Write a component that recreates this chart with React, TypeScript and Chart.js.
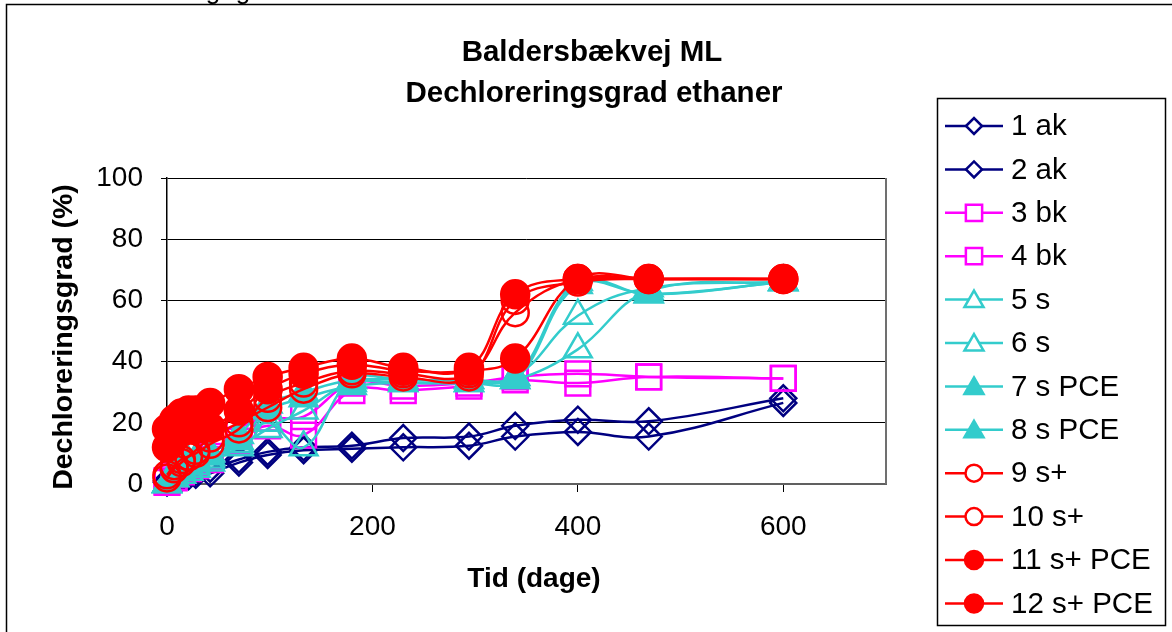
import React, { useEffect, useRef } from 'react';
import { Chart, registerables } from 'chart.js';
import { drawPoint } from 'chart.js/helpers';

Chart.register(...registerables);

const FONT = '"Liberation Sans", Arial, sans-serif';

const days = [0, 7, 14, 21, 28, 42, 70, 98, 133, 180, 230, 294, 339, 400, 469, 600];

const s1ak = [1, 2, 3, 3.5, 4, 5, 8, 10.5, 12, 12.5, 15, 15.5, 19, 21, 20.5, 28];
const s2ak = [0.5, 1, 2, 2.5, 3, 3.5, 7, 9.5, 11, 11.5, 12, 12.5, 15.5, 17, 15.5, 26.5];
const s3bk = [1, 3, 5, 6, 7, 9, 18, 21.5, 22, 33, 32, 33, 35, 36, 35, 34.5];
const s4bk = [0.5, 2, 4, 5, 6, 8, 14, 19, 16, 30.5, 30.5, 32, 34, 33, 35, 34.5];
const s5s = [0, 2, 4, 5, 6, 8, 13, 20, 12, 34, 34, 34, 35, 55, 64, 66];
const s6s = [0, 2, 3, 4, 5, 7, 12, 18, 24, 33, 33, 33, 34, 44, 63, 66];
const s7sPCE = [0, 3, 5, 7, 8, 10, 16, 26, 30, 34, 34, 34, 35, 66, 62, 66];
const s8sPCE = [0, 2, 4, 6, 7, 9, 14, 24, 28, 32, 33, 33, 34, 65, 62, 66];
const s9sp = [3, 6, 8, 9, 10, 13, 18, 28, 33, 37, 36, 36, 56, 67, 67, 67];
const s10sp = [2, 5, 7, 9, 11, 15, 20, 25, 31, 36, 35, 35, 60, 66, 67, 67];
const s11spPCE = [18, 21, 23, 24, 24, 26.5, 31, 35, 38, 41, 38, 38, 62, 67, 67, 67];
const s12spPCE = [12, 15, 17, 18, 18, 18.5, 24, 31, 36, 39, 37, 37, 41, 67, 67, 67];

const seriesNames = ['1 ak', '2 ak', '3 bk', '4 bk', '5 s', '6 s', '7 s PCE', '8 s PCE', '9 s+', '10 s+', '11 s+ PCE', '12 s+ PCE'];
const seriesValues = [s1ak, s2ak, s3bk, s4bk, s5s, s6s, s7sPCE, s8sPCE, s9sp, s10sp, s11spPCE, s12spPCE];

const xTicks = [0, 200, 400, 600];
const titleLines = ['Baldersbækvej ML', 'Dechloreringsgrad ethaner'];
const xTitle = 'Tid (dage)';
const yTitle = 'Dechloreringsgrad (%)';

const NAVY = '#000080';
const MAGENTA = '#FF00FF';
const CYAN = '#33CCCC';
const RED = '#FF0000';
const CLEAR = 'rgba(0,0,0,0)';

type Sty = { color: string; style: string; filled: boolean; r: number; lr: number };
const styles: Sty[] = [
  { color: NAVY, style: 'rectRot', filled: false, r: 13, lr: 8 },
  { color: NAVY, style: 'rectRot', filled: false, r: 13, lr: 8 },
  { color: MAGENTA, style: 'rect', filled: false, r: 17.5, lr: 11.5 },
  { color: MAGENTA, style: 'rect', filled: false, r: 17.5, lr: 11.5 },
  { color: CYAN, style: 'triangle', filled: false, r: 16, lr: 11 },
  { color: CYAN, style: 'triangle', filled: false, r: 16, lr: 11 },
  { color: CYAN, style: 'triangle', filled: true, r: 16, lr: 11 },
  { color: CYAN, style: 'triangle', filled: true, r: 16, lr: 11 },
  { color: RED, style: 'circle', filled: false, r: 13.5, lr: 8.5 },
  { color: RED, style: 'circle', filled: false, r: 13.5, lr: 8.5 },
  { color: RED, style: 'circle', filled: true, r: 14, lr: 9 },
  { color: RED, style: 'circle', filled: true, r: 14, lr: 9 },
];

const decorPlugin = {
  id: 'decor',
  afterDraw(chart: any) {
    const ctx = chart.ctx as CanvasRenderingContext2D;
    const ca = chart.chartArea;
    ctx.save();
    // plot area right border
    ctx.strokeStyle = '#707070';
    ctx.lineWidth = 2;
    ctx.beginPath();
    ctx.moveTo(ca.right, ca.top);
    ctx.lineTo(ca.right, ca.bottom);
    ctx.stroke();

    // outer border
    ctx.strokeStyle = '#000';
    ctx.lineWidth = 1.5;
    ctx.strokeRect(6.5, 4.5, 1180, 640);

    // cut-off descenders at the top
    ctx.fillStyle = '#000';
    ctx.font = `26px ${FONT}`;
    ctx.textAlign = 'center';
    ctx.textBaseline = 'alphabetic';
    ctx.fillText('g', 213, -1);
    ctx.fillText('g', 243, -1);

    // title
    ctx.font = `bold 29.5px ${FONT}`;
    ctx.textBaseline = 'middle';
    ctx.fillText(titleLines[0], 592, 53);
    ctx.fillText(titleLines[1], 594, 94);

    // axis titles
    ctx.font = `bold 28px ${FONT}`;
    ctx.fillText(xTitle, 534, 579);
    ctx.save();
    ctx.translate(64, 337);
    ctx.rotate(-Math.PI / 2);
    ctx.font = `bold 28.5px ${FONT}`;
    ctx.fillText(yTitle, 0, 0);
    ctx.restore();

    // legend
    const lx = 937, ly = 98, lw = 228, lh = 527;
    ctx.fillStyle = '#fff';
    ctx.fillRect(lx, ly, lw, lh);
    ctx.strokeStyle = '#000';
    ctx.lineWidth = 1.5;
    ctx.strokeRect(lx + 0.5, ly + 0.5, lw, lh);
    ctx.font = `29.5px ${FONT}`;
    ctx.textAlign = 'left';
    ctx.textBaseline = 'middle';
    seriesNames.forEach((name, i) => {
      const y = 126 + i * 43.4;
      const st = styles[i];
      ctx.strokeStyle = st.color;
      ctx.lineWidth = 2.5;
      ctx.beginPath();
      ctx.moveTo(945, y);
      ctx.lineTo(1003, y);
      ctx.stroke();
      ctx.fillStyle = st.filled ? st.color : '#fff';
      ctx.strokeStyle = st.color;
      ctx.lineWidth = 2.5;
      drawPoint(ctx, { pointStyle: st.style as any, rotation: 0, radius: st.lr, borderWidth: 2.5 }, 974, y + (st.style === 'triangle' ? 2 : 0));
      ctx.fillStyle = '#000';
      ctx.fillText(name, 1011, y + 1);
    });
    ctx.restore();
  },
};

export default function App() {
  const ref = useRef<HTMLCanvasElement>(null);
  useEffect(() => {
    document.body.style.margin = '0';
    const canvas = ref.current!;
    const datasets = seriesValues.map((vals, i) => {
      const st = styles[i];
      return {
        label: seriesNames[i],
        data: days.map((d, j) => ({ x: d, y: vals[j] })),
        borderColor: st.color,
        backgroundColor: st.color,
        borderWidth: 2.5,
        tension: 0.4,
        fill: false,
        clip: false as any,
        order: 12 - i,
        pointStyle: st.style as any,
        pointRadius: st.r,
        pointBorderWidth: 2.5,
        pointBorderColor: st.color,
        pointBackgroundColor: st.filled ? st.color : CLEAR,
      };
    });
    const chart = new Chart(canvas, {
      type: 'line',
      data: { datasets },
      options: {
        responsive: false,
        animation: false,
        devicePixelRatio: 1,
        layout: { padding: { left: 0, top: 178, right: 286, bottom: 0 } },
        plugins: { legend: { display: false }, tooltip: { enabled: false }, title: { display: false } },
        scales: {
          x: {
            type: 'linear',
            min: 0,
            max: 700,
            afterBuildTicks: (s: any) => {
              s.ticks = xTicks.map((v) => ({ value: v }));
            },
            afterFit: (s: any) => {
              s.height = 148;
            },
            grid: { drawOnChartArea: false, tickLength: 8, color: '#000', lineWidth: 1 },
            border: { color: '#606060', width: 2 },
            ticks: { font: { family: FONT, size: 28 }, color: '#000', padding: 18, maxRotation: 0, autoSkip: false },
          },
          y: {
            min: 0,
            max: 100,
            afterFit: (s: any) => {
              s.width = 167;
            },
            grid: { color: '#000', tickLength: 6, lineWidth: 1 },
            border: { color: '#000', width: 1.5 },
            ticks: { stepSize: 20, font: { family: FONT, size: 28 }, color: '#000', padding: 18 },
          },
        },
      },
      plugins: [decorPlugin],
    });
    return () => chart.destroy();
  }, []);
  return <canvas ref={ref} width={1172} height={632} style={{ display: 'block' }} />;
}
